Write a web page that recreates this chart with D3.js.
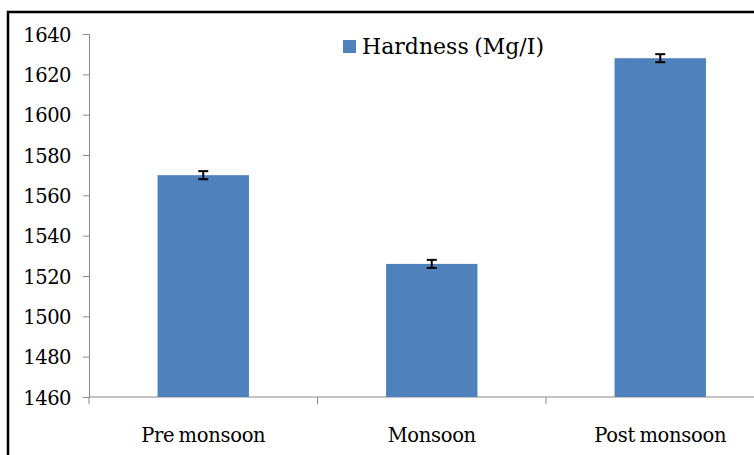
<!DOCTYPE html>
<html>
<head>
<meta charset="utf-8">
<script src="https://cdn.jsdelivr.net/npm/d3@7"></script>
<style>
  body { margin: 0; background: #fff; }
  svg { display: block; }
  svg text { font-family: "DejaVu Serif", serif; fill: #000; }
</style>
</head>
<body>
<svg id="chart" width="754" height="455"></svg>
<script>
var categories = ["Pre monsoon", "Monsoon", "Post monsoon"];
var hardness = [1570, 1526, 1628];
var errors = [2, 2, 2];
var yTicks = [1460, 1480, 1500, 1520, 1540, 1560, 1580, 1600, 1620, 1640];
var seriesName = "Hardness (Mg/I)";

var svg = d3.select("#chart");
var plotLeft = 89, plotRight = 774.5, plotTop = 34, plotBottom = 397;

// outer frame (only left and top show)
svg.append("path")
    .attr("d", "M8,455 L8,12 L754,12")
    .attr("fill", "none")
    .attr("stroke", "#000")
    .attr("stroke-width", 2.5);

var x = d3.scaleBand()
    .domain(categories)
    .range([plotLeft, plotRight])
    .paddingInner(0.6)
    .paddingOuter(0.3);

var y = d3.scaleLinear()
    .domain([1460, 1640])
    .range([plotBottom, plotTop]);

// y axis
var gy = svg.append("g")
    .attr("transform", "translate(" + plotLeft + ",0)")
    .call(d3.axisLeft(y).tickValues(yTicks).tickSize(6).tickPadding(12).tickFormat(d3.format("d")));
gy.attr("font-family", null).attr("font-size", null);
gy.select(".domain").attr("stroke", "#898989");
gy.selectAll(".tick line").attr("stroke", "#898989");
gy.selectAll(".tick text")
    .style("font-size", "19.5px")
    .style("letter-spacing", "-0.5px")
    .attr("dy", "0.36em");

// x axis line
svg.append("line")
    .attr("x1", plotLeft).attr("x2", plotRight)
    .attr("y1", plotBottom).attr("y2", plotBottom)
    .attr("stroke", "#898989");

// ticks on the category boundaries
var bounds = d3.range(categories.length + 1);
svg.selectAll(".xtick")
    .data(bounds)
    .join("line")
    .attr("class", "xtick")
    .attr("x1", function(i) { return plotLeft + i * x.step(); })
    .attr("x2", function(i) { return plotLeft + i * x.step(); })
    .attr("y1", plotBottom)
    .attr("y2", plotBottom + 7)
    .attr("stroke", "#898989");

// category labels
svg.selectAll(".xlabel")
    .data(categories)
    .join("text")
    .attr("class", "xlabel")
    .attr("x", function(d) { return x(d) + x.bandwidth() / 2; })
    .attr("y", plotBottom + 45)
    .attr("text-anchor", "middle")
    .style("font-size", "19.5px")
    .style("letter-spacing", "-0.3px")
    .style("word-spacing", "-1.5px")
    .text(function(d) { return d; });

// bars
svg.selectAll(".bar")
    .data(hardness)
    .join("rect")
    .attr("class", "bar")
    .attr("x", function(d, i) { return x(categories[i]); })
    .attr("width", x.bandwidth())
    .attr("y", function(d) { return y(d); })
    .attr("height", function(d) { return plotBottom - y(d); })
    .attr("fill", "#4F81BD");

// error bars
var eb = svg.selectAll(".err")
    .data(hardness)
    .join("g")
    .attr("class", "err")
    .attr("stroke", "#000")
    .attr("stroke-width", 2);
eb.append("line")
    .attr("x1", function(d, i) { return x(categories[i]) + x.bandwidth() / 2; })
    .attr("x2", function(d, i) { return x(categories[i]) + x.bandwidth() / 2; })
    .attr("y1", function(d, i) { return y(d + errors[i]); })
    .attr("y2", function(d, i) { return y(d - errors[i]); });
eb.selectAll(".cap")
    .data(function(d, i) { return [[i, d + errors[i]], [i, d - errors[i]]]; })
    .join("line")
    .attr("class", "cap")
    .attr("x1", function(p) { return x(categories[p[0]]) + x.bandwidth() / 2 - 5; })
    .attr("x2", function(p) { return x(categories[p[0]]) + x.bandwidth() / 2 + 5; })
    .attr("y1", function(p) { return y(p[1]); })
    .attr("y2", function(p) { return y(p[1]); });

// legend
var legend = svg.append("g").attr("transform", "translate(343,40)");
legend.append("rect")
    .attr("width", 13).attr("height", 13)
    .attr("fill", "#4F81BD");
legend.append("text")
    .attr("x", 19)
    .attr("y", 14)
    .style("font-size", "22px")
    .style("word-spacing", "-1.5px")
    .text(seriesName);
</script>
</body>
</html>
